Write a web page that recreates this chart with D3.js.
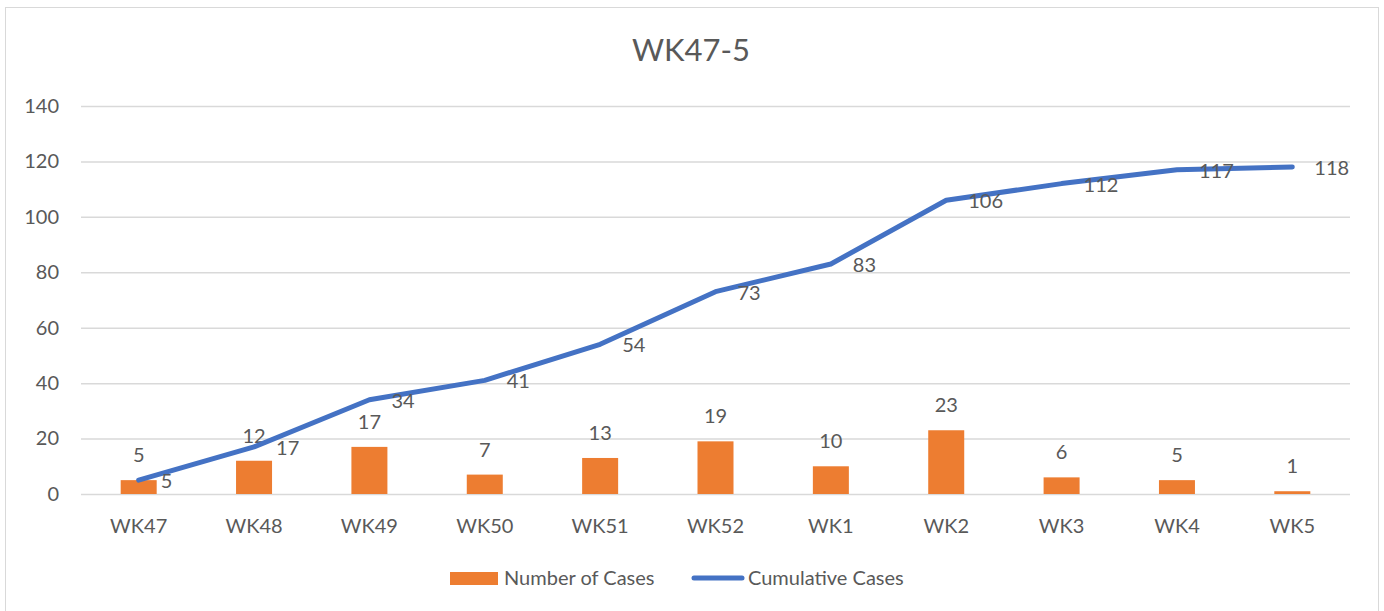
<!DOCTYPE html>
<html lang="en">
<head>
    <meta charset="UTF-8">
    <title>WK47-5</title>
    <style>
        body { margin: 0; background: #fff; }
        text { font-family: Lato, "Open Sans", sans-serif; fill: #595959; }
    </style>
    <script src="https://d3js.org/d3.v7.min.js"></script>
</head>
<body>
    <svg width="1384" height="611"></svg>
    <script>
        const weeks = ['WK47', 'WK48', 'WK49', 'WK50', 'WK51', 'WK52', 'WK1', 'WK2', 'WK3', 'WK4', 'WK5'];
        const cases = [5, 12, 17, 7, 13, 19, 10, 23, 6, 5, 1];
        const cumulative = [5, 17, 34, 41, 54, 73, 83, 106, 112, 117, 118];
        const yTicks = [0, 20, 40, 60, 80, 100, 120, 140];

        const svg = d3.select("svg");
        const orange = "#ED7D31", blue = "#4472C4";
        const fs = "20px";

        // outer chart frame
        svg.append("rect")
            .attr("x", 5.5).attr("y", 7.5)
            .attr("width", 1373).attr("height", 610)
            .attr("fill", "none").attr("stroke", "#d9d9d9");

        const x = d3.scaleBand().domain(weeks).range([81, 1350]);
        const y = d3.scaleLinear().domain([0, 140]).range([494, 106]);

        svg.append("text")
            .attr("x", 691).attr("y", 61)
            .attr("text-anchor", "middle")
            .attr("font-size", "31px")
            .text("WK47-5");

        // gridlines + y labels
        const yAxis = svg.append("g")
            .call(d3.axisLeft(y).tickValues(yTicks).tickSize(-(1350 - 81)).tickPadding(22))
            .attr("transform", "translate(81,0)");
        yAxis.select(".domain").remove();
        yAxis.selectAll("line").attr("stroke", "#d9d9d9").attr("stroke-width", 1.5);
        yAxis.selectAll("text").attr("font-size", fs).attr("fill", "#595959")
            .style("font-family", "Lato, 'Open Sans', sans-serif");

        // x labels
        svg.append("g").selectAll("text")
            .data(weeks)
            .enter().append("text")
            .attr("x", d => x(d) + x.bandwidth() / 2)
            .attr("y", 533)
            .attr("text-anchor", "middle")
            .attr("font-size", fs)
            .text(d => d);

        const barW = 36;
        svg.append("g").selectAll("rect")
            .data(cases)
            .enter().append("rect")
            .attr("x", (d, i) => x(weeks[i]) + x.bandwidth() / 2 - barW / 2)
            .attr("y", d => y(d))
            .attr("width", barW)
            .attr("height", d => y(0) - y(d))
            .attr("fill", orange);

        svg.append("g").selectAll("text")
            .data(cases)
            .enter().append("text")
            .attr("x", (d, i) => x(weeks[i]) + x.bandwidth() / 2)
            .attr("y", d => y(d) - 18)
            .attr("text-anchor", "middle")
            .attr("font-size", fs)
            .text(d => d);

        const line = d3.line()
            .x((d, i) => x(weeks[i]) + x.bandwidth() / 2)
            .y(d => y(d));

        svg.append("path")
            .datum(cumulative)
            .attr("d", line)
            .attr("fill", "none")
            .attr("stroke", blue)
            .attr("stroke-width", 5)
            .attr("stroke-linecap", "round")
            .attr("stroke-linejoin", "round");

        svg.append("g").selectAll("text")
            .data(cumulative)
            .enter().append("text")
            .attr("x", (d, i) => x(weeks[i]) + x.bandwidth() / 2 + 22)
            .attr("y", d => y(d) + 8)
            .attr("font-size", fs)
            .text(d => d);

        // legend
        const legend = svg.append("g");
        legend.append("rect")
            .attr("x", 450).attr("y", 572).attr("width", 48).attr("height", 13)
            .attr("fill", orange);
        legend.append("text")
            .attr("x", 504).attr("y", 585).attr("font-size", fs)
            .text("Number of Cases");
        legend.append("line")
            .attr("x1", 694).attr("x2", 742).attr("y1", 578).attr("y2", 578)
            .attr("stroke", blue).attr("stroke-width", 5).attr("stroke-linecap", "round");
        legend.append("text")
            .attr("x", 748).attr("y", 585).attr("font-size", fs)
            .text("Cumulative Cases");
    </script>
</body>
</html>
